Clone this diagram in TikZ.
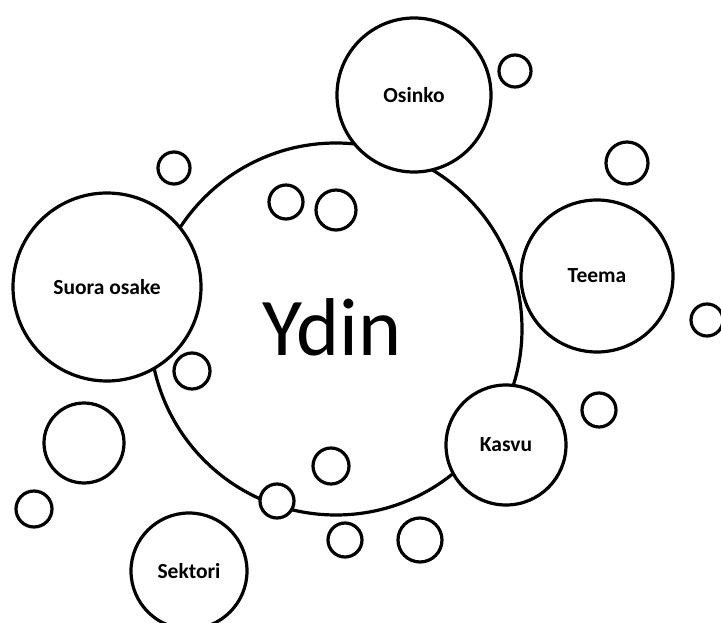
\documentclass[tikz,border=0pt]{standalone}
\usepackage{fontspec}
\setmainfont{Carlito}
\begin{document}
\begin{tikzpicture}[x=1pt,y=-1pt,
  bubble/.style={circle,draw=black,line width=3.2pt,fill=white,inner sep=0pt,minimum size=#1},
  lbl/.style={font=\bfseries\fontsize{21.5}{21.5}\selectfont},
  core/.style={font=\fontsize{82}{82}\selectfont}]
\useasboundingbox (0,0) rectangle (721,623);
% core bubble
\node[bubble=372, core] (ydin) at (336,329) {};
\node[core, anchor=base] (ydintext) at (332,355) {Ydin};
% labelled satellites
\node[bubble=154, lbl] (osinko) at (414,95) {Osinko};
\node[bubble=152, lbl] (teema) at (597,276) {Teema};
\node[bubble=120, lbl] (kasvu) at (506,445) {Kasvu};
\node[bubble=188, lbl] (suora) at (107,287) {Suora osake};
\node[bubble=116, lbl] (sektori) at (189,571) {Sektori};
% small empty bubbles
\node[bubble=32] (s1) at (174,168) {};
\node[bubble=32] (s2) at (515,71) {};
\node[bubble=42] (s3) at (627,163) {};
\node[bubble=32] (s4) at (707,320) {};
\node[bubble=34] (s5) at (599,410) {};
\node[bubble=34] (s6) at (286,202) {};
\node[bubble=40] (s7) at (336,210) {};
\node[bubble=36] (s8) at (192,371) {};
\node[bubble=80] (s9) at (84,443) {};
\node[bubble=36] (s10) at (34,509) {};
\node[bubble=36] (s11) at (331,466) {};
\node[bubble=34] (s12) at (277,501) {};
\node[bubble=34] (s13) at (345,540) {};
\node[bubble=44] (s14) at (420,540) {};
\end{tikzpicture}
\end{document}
